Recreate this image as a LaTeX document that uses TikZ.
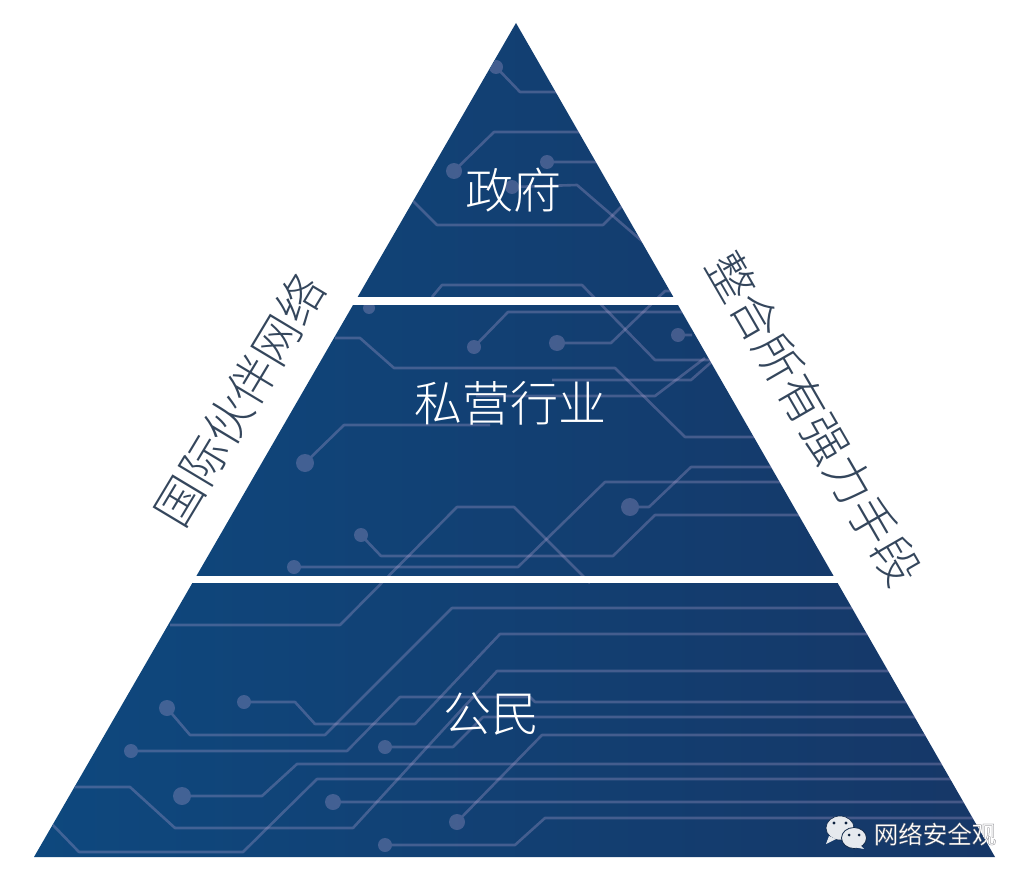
\documentclass[tikz,border=0pt]{standalone}
\usepackage{fontspec}
\newfontfamily\cjk{Noto Sans CJK SC Light}
\newfontfamily\cjkreg{Noto Sans CJK SC}
\definecolor{navyL}{HTML}{0E487E}
\definecolor{navyR}{HTML}{163767}
\definecolor{tracec}{HTML}{B8A6D4}
\definecolor{sidetext}{HTML}{34465C}
\definecolor{bubble}{HTML}{E6E9EE}
\tikzset{
  tracegroup/.style={transparency group,opacity=.30},
  wirepath/.style={draw=tracec,line width=2.6pt,line join=round},
  padfill/.style={fill=tracec},
  tiertext/.style={text=white,font=\cjk\fontsize{48}{48}\selectfont,inner sep=0pt},
  sidelabel/.style={text=sidetext,font=\cjk\fontsize{47}{47}\selectfont,inner sep=0pt},
  marktext/.style={font=\cjkreg\fontsize{24.5}{25}\selectfont,inner sep=0pt},
}
\newcommand{\circuit}[3]{\begin{scope}[tracegroup]\fill[padfill] #1 circle (#2pt);\draw[wirepath] #1 -- #3;\end{scope}}
\newcommand{\wire}[1]{\begin{scope}[tracegroup]\draw[wirepath] #1;\end{scope}}
\begin{document}
\begin{tikzpicture}[x=1pt,y=-1pt]
\useasboundingbox (0,0) rectangle (1031,880);
\fill[white] (0,0) rectangle (1031,880);
\begin{scope}
\clip (516,23) -- (995,857) -- (34,857) -- cycle;
\shade[left color=navyL,right color=navyR] (34,23) rectangle (995,857);
% top tier
\circuit{(496,67)}{7}{(520,92) -- (557,92)}
\circuit{(454,171)}{8}{(494,132) -- (590,132)}
\circuit{(547,162)}{7}{(600,162)}
\circuit{(512,187)}{7}{(577,185) -- (650,248)}
\wire{(410,198) -- (437,225) -- (603,225) -- (625,203)}
\wire{(432,297) -- (442,285) -- (582,285) -- (655,360) -- (715,360)}
% middle tier
\circuit{(369,308)}{6}{(369,308)}
\circuit{(557,343)}{8}{(611,343) -- (665,291) -- (685,291)}
\circuit{(474,347)}{7}{(508,312) -- (690,312)}
\circuit{(678,335)}{7}{(692,335)}
\wire{(335,338) -- (360,338) -- (394,368) -- (615,368) -- (685,437) -- (760,437)}
\wire{(552,380) -- (691,380) -- (716,358)}
\wire{(476,396) -- (655,396) -- (705,358)}
\circuit{(305,463)}{9}{(344,425) -- (490,425)}
\circuit{(630,507)}{9}{(649,507) -- (691,467) -- (775,467)}
\circuit{(294,567)}{7}{(518,567) -- (605,482) -- (785,482)}
\circuit{(361,535)}{7}{(381,556) -- (613,556) -- (655,515) -- (805,515)}
\wire{(170,625) -- (340,625) -- (457,507) -- (514,507) -- (590,583)}
% bottom tier
\circuit{(167,708)}{8}{(190,735) -- (325,735) -- (452,608) -- (860,608)}
\circuit{(244,702)}{7}{(295,702) -- (315,724) -- (415,724) -- (500,634) -- (880,634)}
\circuit{(131,751)}{7}{(347,751) -- (400,697) -- (530,697) -- (535,702) -- (915,702)}
\circuit{(385,747)}{7}{(453,747) -- (483,717) -- (925,717)}
\wire{(70,787) -- (130,787) -- (175,828) -- (353,828) -- (497,671) -- (900,671)}
\circuit{(182,796)}{9}{(262,796) -- (297,764) -- (960,764)}
\wire{(50,822) -- (79,852) -- (243,852) -- (317,779) -- (970,779)}
\circuit{(333,802)}{8}{(985,802)}
\circuit{(457,822)}{8}{(542,735) -- (945,735)}
\circuit{(385,845)}{7}{(515,845) -- (545,818) -- (995,818)}
\end{scope}
% white separators
\fill[white] (0,296.8) rectangle (1031,305);
\fill[white] (0,576) rectangle (1031,583);
% labels
\node[tiertext] (gov) at (513,190) {政府};
\node[tiertext] (priv) at (510,403) {私营行业};
\node[tiertext] (citizen) at (491,714) {公民};
\node[sidelabel,rotate=59] (leftlabel) at (240,400) {国际伙伴网络};
\node[sidelabel,rotate=-60] (rightlabel) at (814,419) {整合所有强力手段};
% watermark
\begin{scope}
\fill[bubble,draw=navyR!70!black,line width=.6pt] (840,828) ellipse (14pt and 12pt);
\fill[bubble] (829,836) -- (826,844) -- (836,839) -- cycle;
\fill[bubble,draw=navyR!70!black,line width=.8pt] (854,838) ellipse (12.5pt and 10.5pt);
\fill[bubble] (860,845) -- (864,849) -- (853,847) -- cycle;
\fill[navyR!60!black] (834,823) circle (1.7pt) (846,823) circle (1.7pt) (849,835) circle (1.5pt) (859,835) circle (1.5pt);
\end{scope}
\node[marktext,text=white] (mark) at (935,834) {\special{pdf:code 2 Tr 0.25 w 0.4 0.4 0.43 RG}网络安全观\special{pdf:code 0 Tr}};
\end{tikzpicture}
\end{document}
